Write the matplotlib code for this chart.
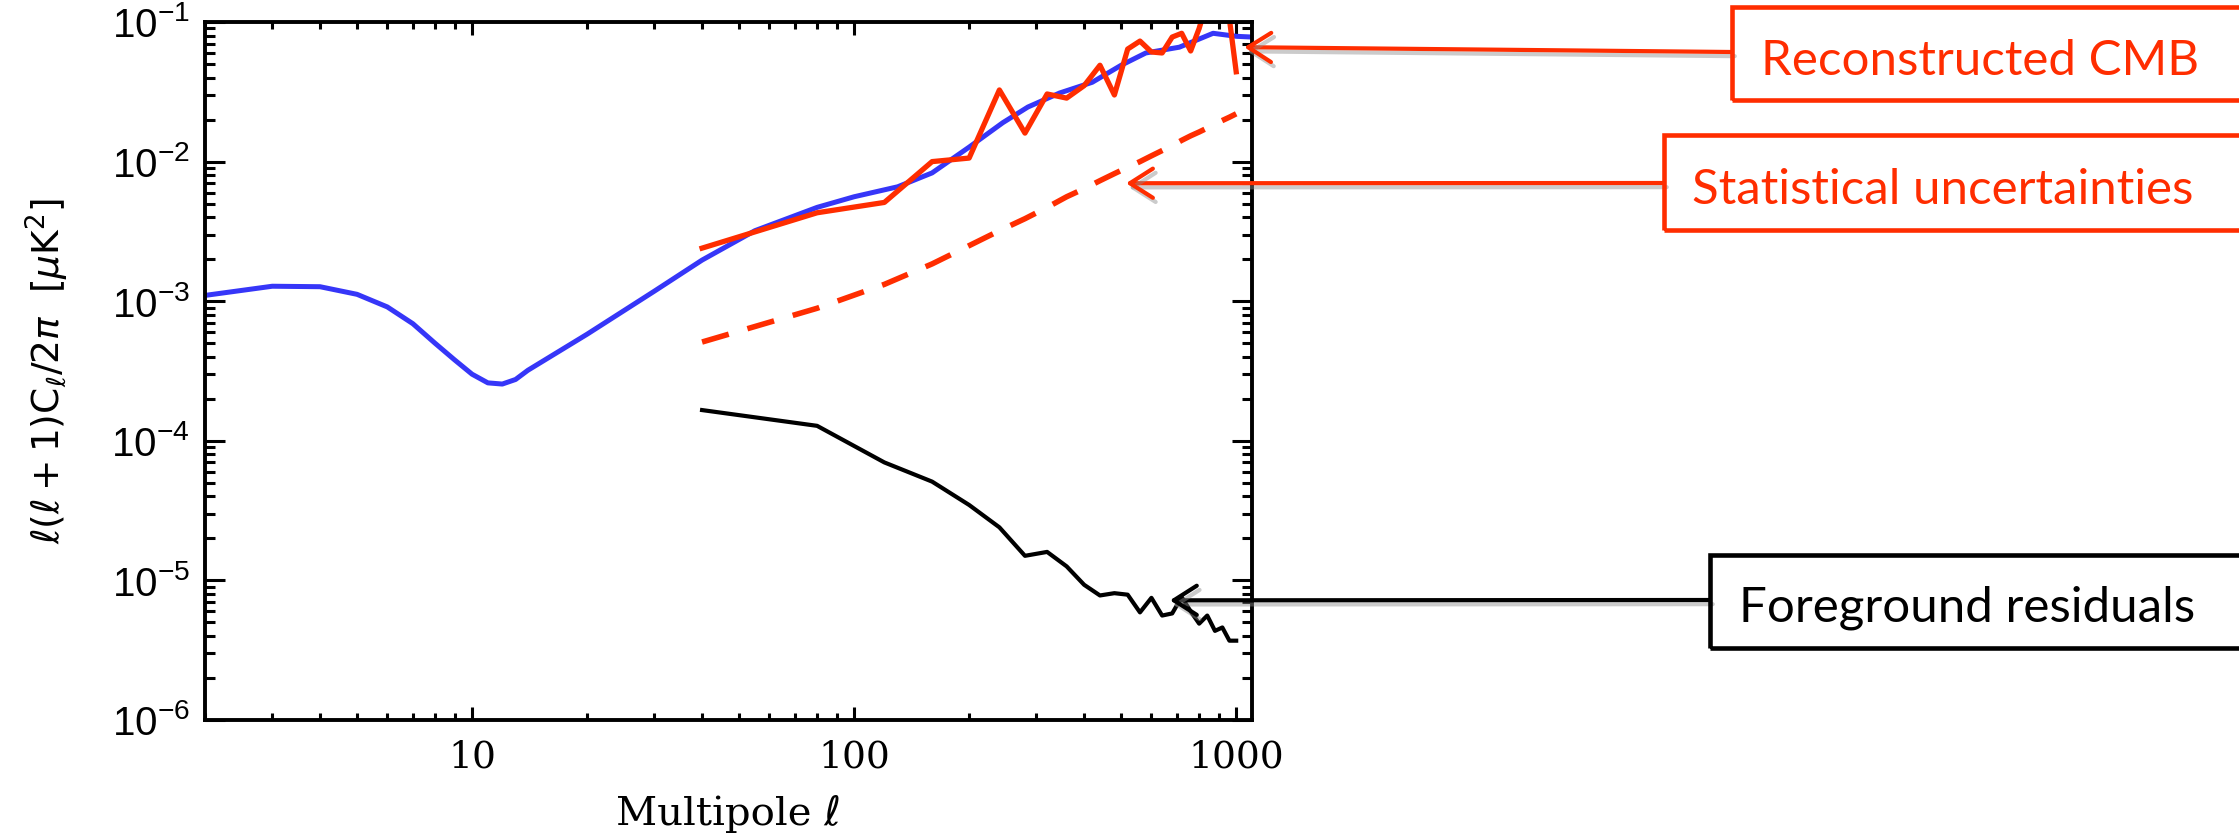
import numpy as np
import matplotlib
matplotlib.use('Agg')
import matplotlib.pyplot as plt
import matplotlib.patheffects as pe
from matplotlib.patches import Rectangle
from matplotlib.ticker import FixedLocator, LogLocator, NullFormatter

# Theory spectrum (blue curve)
ell_theory = [2, 3, 4, 5, 6, 7, 8, 9, 10, 11, 12, 13, 14, 20, 30, 40, 55, 80, 100,
              130, 160, 200, 245, 285, 345, 420, 500, 580, 710, 870, 1000, 1100]
cl_theory = [1.10e-3, 1.28e-3, 1.27e-3, 1.12e-3, 9.1e-4, 6.9e-4, 5.0e-4, 3.8e-4, 3.0e-4,
             2.6e-4, 2.55e-4, 2.75e-4, 3.2e-4, 5.8e-4, 1.18e-3, 1.97e-3, 3.2e-3, 4.7e-3,
             5.6e-3, 6.6e-3, 8.3e-3, 1.27e-2, 1.9e-2, 2.46e-2, 3.1e-2, 3.7e-2, 4.9e-2,
             6.0e-2, 6.6e-2, 8.3e-2, 7.9e-2, 7.8e-2]

# Binned multipoles (delta ell = 40)
ell_bins = [40, 80, 120, 160, 200, 240, 280, 320, 360, 400, 440, 480, 520, 560, 600,
            640, 680, 720, 760, 800, 840, 880, 920, 960, 1000]

# Reconstructed CMB (red solid)
cl_reco = [2.4e-3, 4.3e-3, 5.1e-3, 1.0e-2, 1.06e-2, 3.26e-2, 1.6e-2, 3.05e-2, 2.85e-2,
           3.5e-2, 4.9e-2, 3.0e-2, 6.4e-2, 7.3e-2, 6.1e-2, 6.0e-2, 7.8e-2, 8.3e-2,
           6.2e-2, 9.0e-2, 1.4e-1, 1.6e-1, 1.3e-1, 1.05e-1, 4.4e-2]

# Statistical uncertainties (red dashed)
cl_stat = [5.1e-4, 8.9e-4, 1.32e-3, 1.85e-3, 2.5e-3, 3.2e-3, 3.9e-3, 4.7e-3, 5.6e-3,
           6.4e-3, 7.3e-3, 8.2e-3, 9.1e-3, 1.0e-2, 1.1e-2, 1.2e-2, 1.3e-2, 1.42e-2,
           1.53e-2, 1.63e-2, 1.74e-2, 1.86e-2, 1.97e-2, 2.08e-2, 2.2e-2]

# Foreground residuals (black)
cl_fg = [1.66e-4, 1.28e-4, 7.0e-5, 5.1e-5, 3.47e-5, 2.4e-5, 1.5e-5, 1.6e-5, 1.26e-5,
         9.3e-6, 7.8e-6, 8.1e-6, 7.9e-6, 5.9e-6, 7.5e-6, 5.6e-6, 5.8e-6, 7.6e-6,
         6.0e-6, 4.9e-6, 5.6e-6, 4.35e-6, 4.6e-6, 3.7e-6, 3.7e-6]

xticks = [10, 100, 1000]
xtick_labels = ['10', '100', '1000']
yticks = [1e-6, 1e-5, 1e-4, 1e-3, 1e-2, 1e-1]
ytick_labels = [r'$\mathdefault{10^{-6}}$', r'$\mathdefault{10^{-5}}$', r'$\mathdefault{10^{-4}}$',
                r'$\mathdefault{10^{-3}}$', r'$\mathdefault{10^{-2}}$', r'$\mathdefault{10^{-1}}$']

# annotation texts and where their arrows point (data coords)
notes = ['Reconstructed CMB', 'Statistical uncertainties', 'Foreground residuals']
note_targets = [(1050, 6.6e-2), (515, 7.0e-3), (671, 7.2e-6)]

W, H = 2239, 840
red = '#FF2D00'
blue = '#3636F8'

fig = plt.figure(figsize=(W / 100, H / 100), dpi=100)
ax = fig.add_axes([205 / W, 1 - 720 / H, (1252 - 205) / W, (720 - 22) / H])

ax.plot(ell_theory, cl_theory, color=blue, lw=3.6, solid_joinstyle='round')
ax.plot(ell_bins, cl_reco, color=red, lw=3.8)
ax.plot(ell_bins, cl_stat, color=red, lw=4.0, dashes=(5, 3.5))
ax.plot(ell_bins, cl_fg, color='black', lw=3.0)

ax.set_xscale('log')
ax.set_yscale('log')
ax.set_xlim(2, 1100)
ax.set_ylim(1e-6, 1e-1)

ax.xaxis.set_major_locator(FixedLocator(xticks))
ax.set_xticklabels(xtick_labels, fontsize=27, fontfamily='DejaVu Serif')
ax.xaxis.set_minor_locator(LogLocator(base=10, subs=np.arange(2, 10)))
ax.xaxis.set_minor_formatter(NullFormatter())
ax.set_yticks(yticks, labels=ytick_labels, fontsize=29, fontfamily='Liberation Sans')
ax.yaxis.set_minor_locator(LogLocator(base=10, subs=np.arange(2, 10)))
ax.yaxis.set_minor_formatter(NullFormatter())

ax.tick_params(which='both', direction='in', top=True, right=True, width=2.2)
ax.tick_params(axis='x', which='major', length=9.5, pad=14)
ax.tick_params(axis='x', which='minor', length=5)
ax.tick_params(axis='y', which='major', length=14.5, pad=11)
ax.tick_params(axis='y', which='minor', length=7.2)
for s in ax.spines.values():
    s.set_linewidth(2.8)

ax.set_xlabel('Multipole ℓ', fontsize=29, family=['DejaVu Serif', 'DejaVu Sans'])
ax.xaxis.set_label_coords(0.5, -0.107)
ax.set_ylabel(r'$\ell(\ell+1)\mathrm{C}_{\ell}/2\pi\ \ [\mu\mathrm{K}^2]$', fontsize=27)
ax.yaxis.set_label_coords(-0.128, 0.5)

# boxes: (left, top, bottom) in pixels from top-left, text x, baseline, tail y
box_geo = [(1732, 7, 100, 1761, 75, 52), (1664, 135, 230, 1692, 204, 183),
           (1710, 555, 648, 1739, 622, 600)]
box_col = [red, red, 'black']
shadow = [pe.SimpleLineShadow(offset=(2, -3), shadow_color='0.55', alpha=0.45), pe.Normal()]

for (left, top, bot, tx, base, ty), col, txt, tgt in zip(box_geo, box_col, notes, note_targets):
    fig.add_artist(Rectangle((left / W, 1 - bot / H), (2300 - left) / W, (bot - top) / H,
                             transform=fig.transFigure, fill=False, ec=col, lw=3.3))
    fig.text(tx / W, 1 - base / H, txt, color=col, fontsize=35.5, family='Lato', va='baseline')
    ax.annotate('', xy=tgt, xycoords='data', xytext=(left / W, 1 - ty / H),
                textcoords='figure fraction', annotation_clip=False,
                arrowprops=dict(arrowstyle='->, head_length=0.55, head_width=0.35',
                                mutation_scale=30, color=col, lw=3.0,
                                shrinkA=0, shrinkB=0, path_effects=shadow))

fig.savefig('out.png', dpi=100)
